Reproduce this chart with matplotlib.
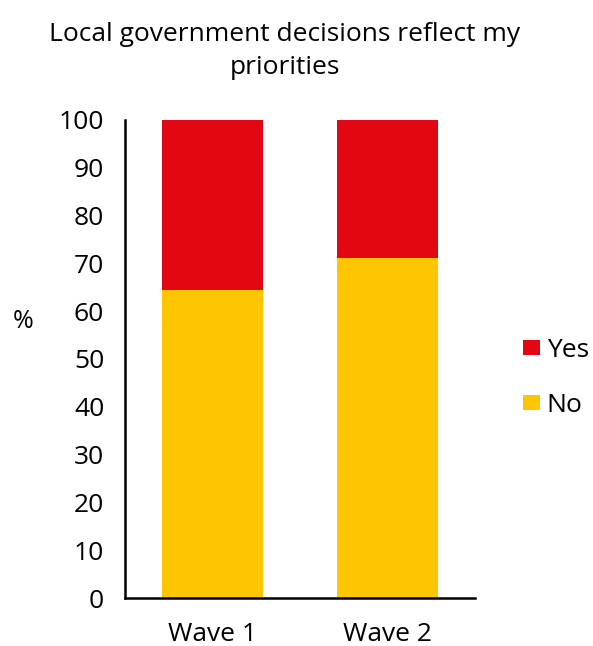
import matplotlib
matplotlib.use("Agg")
import matplotlib.pyplot as plt
from matplotlib.patches import Patch

plt.rcParams['font.family'] = ['Open Sans', 'DejaVu Sans']

categories = ["Wave 1", "Wave 2"]
no_values = [64.3, 71.0]
yes_values = [35.7, 29.0]
yticks = list(range(0, 101, 10))

red = "#E30613"
yellow = "#FDC600"

fig = plt.figure(figsize=(5.93, 6.46), dpi=100)
ax = fig.add_axes([125/593, 1 - 598/646, 350/593, (598 - 119.7)/646])

x = range(len(categories))
ax.bar(x, no_values, width=0.58, color=yellow, label="No")
ax.bar(x, yes_values, width=0.58, bottom=no_values, color=red, label="Yes")

ax.set_xlim(-0.5, 1.5)
ax.set_ylim(0, 100)
ax.set_yticks(yticks)
ax.set_xticks(list(x))
ax.set_xticklabels(categories)
ax.tick_params(axis='both', length=0, labelsize=19)
ax.tick_params(axis='y', pad=15)
ax.tick_params(axis='x', pad=17)
for s in ("top", "right"):
    ax.spines[s].set_visible(False)
for s in ("left", "bottom"):
    ax.spines[s].set_linewidth(1.8)
    ax.spines[s].set_color("black")

fig.text(23/593, 1 - 322/646, "%", fontsize=18, ha="center", va="center")
fig.text(285/593, 1 - 51/646, "Local government decisions reflect my\npriorities",
         fontsize=19, ha="center", va="center", linespacing=1.4)

handles = [Patch(facecolor=red, label="Yes"), Patch(facecolor=yellow, label="No")]
fig.legend(handles=handles, loc="center left", bbox_to_anchor=(523/593, 1 - 378/646),
           frameon=False, fontsize=19, handlelength=0.65, handleheight=0.5,
           handletextpad=0.25, labelspacing=1.15, borderpad=0, borderaxespad=0)

fig.savefig("out.png", dpi=100)
